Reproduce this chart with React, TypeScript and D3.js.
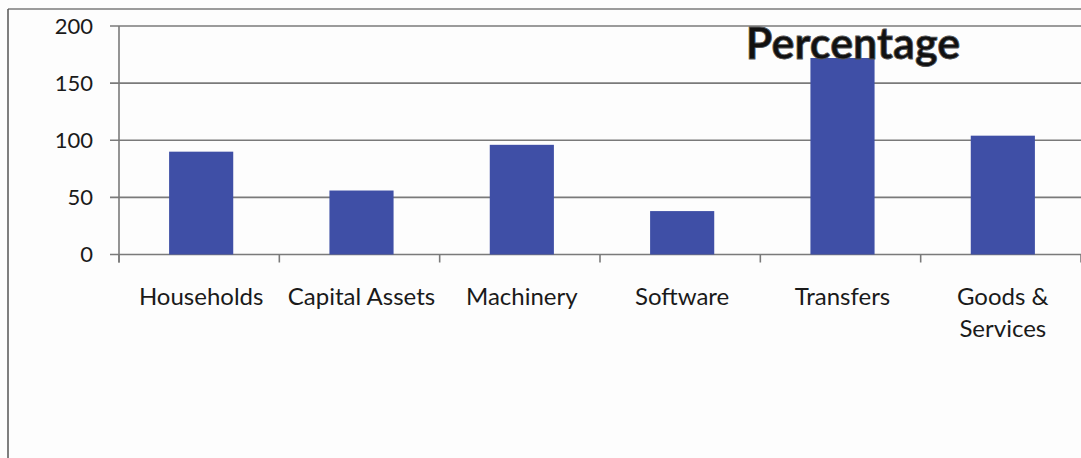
import React from "react";
import * as d3 from "d3";

const categories: string[][] = [
  ["Households"],
  ["Capital Assets"],
  ["Machinery"],
  ["Software"],
  ["Transfers"],
  ["Goods &", "Services"],
];
const values: number[] = [90, 56, 96, 38, 172, 104];
const yTicks: number[] = [0, 50, 100, 150, 200];
const title = "Percentage";

export default function App() {
  const W = 1081;
  const H = 458;
  const left = 119;
  const right = 1081;
  const top = 26;
  const bottom = 254.5;

  const x = d3
    .scaleBand<number>()
    .domain(categories.map((_, i) => i))
    .range([left, right])
    .paddingInner(0.6)
    .paddingOuter(0.3);
  const y = d3.scaleLinear().domain([0, 200]).range([bottom, top]);
  const tickXs = d3.range(categories.length + 1).map((i) => left + i * ((right - left) / categories.length));

  const font = "Lato, 'Open Sans', sans-serif";
  const grid = "#7a7a7a";

  return (
    <svg
      width={W}
      height={H}
      style={{ position: "absolute", left: 0, top: 0, display: "block" }}
    >
      <rect x={0} y={0} width={W} height={H} fill="#fdfdfd" />
      {/* outer border */}
      <line x1={8} x2={W} y1={9} y2={9} stroke={grid} strokeWidth={1.5} />
      <line x1={8} x2={8} y1={9} y2={H} stroke="#555" strokeWidth={1.5} />

      {/* gridlines */}
      {yTicks.map((t) => (
        <g key={t}>
          <line x1={left - 9} x2={right} y1={y(t)} y2={y(t)} stroke={grid} strokeWidth={1.6} />
          <text
            x={93}
            y={y(t)}
            dy="0.35em"
            textAnchor="end"
            fontFamily={font}
            fontSize={22}
            fill="#1a1a1a"
          >
            {t}
          </text>
        </g>
      ))}
      {/* y axis */}
      <line x1={left} x2={left} y1={top} y2={bottom + 8} stroke={grid} strokeWidth={1.6} />
      {/* x ticks */}
      {tickXs.map((tx, i) => (
        <line key={i} x1={tx} x2={tx} y1={bottom} y2={bottom + 8} stroke={grid} strokeWidth={1.6} />
      ))}

      {/* bars */}
      {values.map((v, i) => (
        <rect
          key={i}
          x={(x(i) as number) + 2}
          y={y(v)}
          width={x.bandwidth()}
          height={y(0) - y(v)}
          fill="#3f4fa6"
        />
      ))}

      {/* category labels */}
      {categories.map((lines, i) => (
        <text
          key={i}
          x={(x(i) as number) + x.bandwidth() / 2 + 2}
          y={305}
          textAnchor="middle"
          fontFamily={font}
          fontSize={24}
          fill="#1a1a1a"
        >
          {lines.map((l, j) => (
            <tspan key={j} x={(x(i) as number) + x.bandwidth() / 2 + 2} dy={j === 0 ? 0 : 32}>
              {l}
            </tspan>
          ))}
        </text>
      ))}

      {/* title */}
      <text
        x={853}
        y={59}
        textAnchor="middle"
        fontFamily={font}
        fontWeight="bold"
        fontSize={43}
        fill="#111"
        stroke="#555"
        strokeWidth={0.8}
      >
        {title}
      </text>
    </svg>
  );
}
